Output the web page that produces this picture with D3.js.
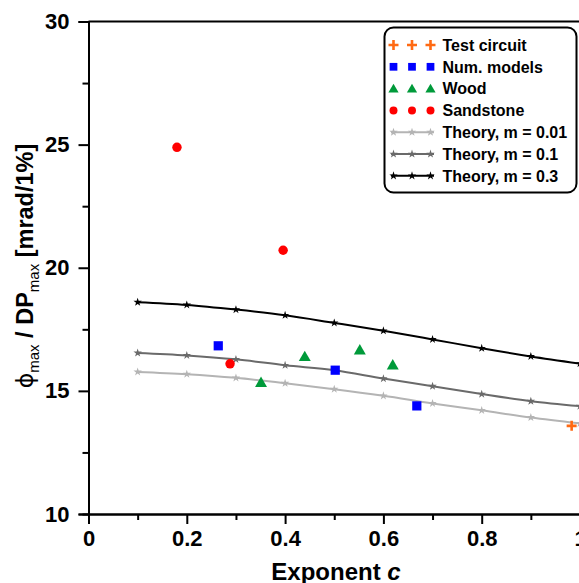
<!DOCTYPE html>
<html>
<head>
<meta charset="utf-8">
<script src="https://cdn.jsdelivr.net/npm/d3@7"></script>
<style>
  body { margin: 0; background: #fff; }
  svg { display: block; font-family: "Liberation Sans", Arial, sans-serif; }
</style>
</head>
<body>
<div id="chart"></div>
<script>
// measured data
const testCircuit = [[0.983, 13.58]];
const numModels = [[0.264, 16.83], [0.502, 15.84], [0.668, 14.39]];
const wood = [[0.351, 15.30], [0.44, 16.35], [0.552, 16.62], [0.619, 16.01]];
const sandstone = [[0.18, 24.89], [0.396, 20.71], [0.288, 16.10]];

const theoryX = [0.1, 0.2, 0.3, 0.4, 0.5, 0.6, 0.7, 0.8, 0.9, 1.0];
const theory001 = [15.77, 15.68, 15.53, 15.31, 15.07, 14.80, 14.49, 14.21, 13.92, 13.68];
const theory01 = [16.54, 16.44, 16.28, 16.04, 15.84, 15.50, 15.19, 14.87, 14.58, 14.38];
const theory03 = [18.60, 18.49, 18.30, 18.07, 17.76, 17.44, 17.09, 16.73, 16.40, 16.11];

const xTicks = [0, 0.2, 0.4, 0.6, 0.8, 1];
const yTicks = [10, 15, 20, 25, 30];

const legendLabels = ["Test circuit", "Num. models", "Wood", "Sandstone",
  "Theory, m = 0.01", "Theory, m = 0.1", "Theory, m = 0.3"];

const W = 579, H = 583;
const svg = d3.select("#chart").append("svg").attr("width", W).attr("height", H);

const x = d3.scaleLinear().domain([0, 1]).range([88.5, 580]);
const y = d3.scaleLinear().domain([10, 30]).range([514, 21.5]);

const cOrange = "#ff6a13", cBlue = "#0000ff", cGreen = "#009a3a", cRed = "#ff0000";
const theoryColors = ["#b4b4b4", "#6a6a6a", "#000000"];

// axes
svg.append("g").attr("transform", `translate(0,${y(10)})`)
  .call(d3.axisBottom(x).tickValues(xTicks).tickSize(10).tickPadding(6)
    .tickFormat(d => d === 0 || d === 1 ? d3.format("d")(d) : d3.format(".1f")(d)));
svg.append("g").attr("transform", `translate(0,${y(10)})`)
  .call(d3.axisBottom(x).tickValues(d3.range(0.1, 1, 0.2)).tickSize(6).tickFormat(""));
svg.append("g").attr("transform", `translate(${x(0)},0)`)
  .call(d3.axisLeft(y).tickValues(yTicks).tickSize(10).tickPadding(9));
svg.append("g").attr("transform", `translate(${x(0)},0)`)
  .call(d3.axisLeft(y).tickValues([12.5, 17.5, 22.5, 27.5]).tickSize(6).tickFormat(""));

svg.selectAll(".domain").attr("stroke", "#000").attr("stroke-width", 2);
svg.selectAll(".tick line").attr("stroke", "#000").attr("stroke-width", 2);
svg.selectAll(".tick text").attr("fill", "#000")
  .style("font-size", "22px").style("font-weight", "bold")
  .style("font-family", "'Liberation Sans', Arial, sans-serif");

// top and right border
svg.append("line").attr("x1", x(0)).attr("x2", x(1)).attr("y1", y(30)).attr("y2", y(30))
  .attr("stroke", "#000").attr("stroke-width", 2);
svg.append("line").attr("x1", x(1)).attr("x2", x(1)).attr("y1", y(30)).attr("y2", y(10))
  .attr("stroke", "#000").attr("stroke-width", 2);

// theory curves
const star = d3.symbol().type(d3.symbolStar).size(22);
const line = d3.line().x(d => x(d[0])).y(d => y(d[1])).curve(d3.curveMonotoneX);
[theory001, theory01, theory03].forEach((vals, i) => {
  const pts = theoryX.map((t, j) => [t, vals[j]]);
  svg.append("path").datum(pts).attr("d", line)
    .attr("fill", "none").attr("stroke", theoryColors[i]).attr("stroke-width", 2);
  svg.append("g").selectAll("path").data(pts).join("path")
    .attr("transform", d => `translate(${x(d[0])},${y(d[1])})`)
    .attr("d", star).attr("fill", theoryColors[i]);
});

// markers
function plus(g, cx, cy) {
  g.append("path").attr("d", `M${cx - 5},${cy}H${cx + 5}M${cx},${cy - 5}V${cy + 5}`)
    .attr("stroke", cOrange).attr("stroke-width", 2.6).attr("fill", "none");
}
const sq = d3.symbol().type(d3.symbolSquare).size(85);
const tri = d3.symbol().type(d3.symbolTriangle).size(62);
const circ = d3.symbol().type(d3.symbolCircle).size(70);

const mk = svg.append("g");
testCircuit.forEach(d => plus(mk, x(d[0]), y(d[1])));
mk.selectAll(".sq").data(numModels).join("path").attr("class", "sq")
  .attr("transform", d => `translate(${x(d[0])},${y(d[1])})`).attr("d", sq).attr("fill", cBlue);
mk.selectAll(".tri").data(wood).join("path").attr("class", "tri")
  .attr("transform", d => `translate(${x(d[0])},${y(d[1])})`).attr("d", tri).attr("fill", cGreen);
mk.selectAll(".circ").data(sandstone).join("path").attr("class", "circ")
  .attr("transform", d => `translate(${x(d[0])},${y(d[1])})`).attr("d", circ).attr("fill", cRed);

// legend
const lg = svg.append("g");
lg.append("rect").attr("x", 384.5).attr("y", 27.5).attr("width", 192).attr("height", 165)
  .attr("rx", 9).attr("fill", "#fff").attr("stroke", "#000").attr("stroke-width", 2);
const symX = [393.5, 412, 430.5];
legendLabels.forEach((lab, i) => {
  const ly = 45 + i * 21.8;
  lg.append("text").attr("x", 442.5).attr("y", ly).attr("dy", "0.36em")
    .style("font-size", "16px").style("font-weight", "bold").text(lab);
  if (i === 0) symX.forEach(sx => plus(lg, sx, ly));
  else if (i === 1) symX.forEach(sx => lg.append("path").attr("transform", `translate(${sx},${ly})`).attr("d", d3.symbol().type(d3.symbolSquare).size(60)).attr("fill", cBlue));
  else if (i === 2) symX.forEach(sx => lg.append("path").attr("transform", `translate(${sx},${ly + 1})`).attr("d", d3.symbol().type(d3.symbolTriangle).size(45)).attr("fill", cGreen));
  else if (i === 3) symX.forEach(sx => lg.append("path").attr("transform", `translate(${sx},${ly})`).attr("d", d3.symbol().type(d3.symbolCircle).size(50)).attr("fill", cRed));
  else {
    const c = theoryColors[i - 4];
    lg.append("line").attr("x1", 391).attr("x2", 434).attr("y1", ly).attr("y2", ly)
      .attr("stroke", c).attr("stroke-width", 2);
    symX.forEach(sx => lg.append("path").attr("transform", `translate(${sx},${ly})`).attr("d", star).attr("fill", c));
  }
});

// axis titles
const xt = svg.append("text").attr("x", 336).attr("y", 580).attr("text-anchor", "middle")
  .style("font-size", "24px").style("font-weight", "bold");
xt.append("tspan").text("Exponent ");
xt.append("tspan").style("font-style", "italic").text("c");

const yt = svg.append("text").attr("transform", "translate(33,266) rotate(-90)")
  .attr("text-anchor", "middle").style("font-size", "23.5px");
yt.append("tspan").style("font-family", "'DejaVu Sans', sans-serif").style("font-weight", "normal").text("\u03D5");
yt.append("tspan").attr("dy", 6).style("font-size", "15px").text("max");
yt.append("tspan").attr("dy", -6).style("font-weight", "bold").text(" / DP");
yt.append("tspan").attr("dy", 6).style("font-size", "15px").text("max");
yt.append("tspan").attr("dy", -6).style("font-weight", "bold").text(" [mrad/1%]");
</script>
</body>
</html>
